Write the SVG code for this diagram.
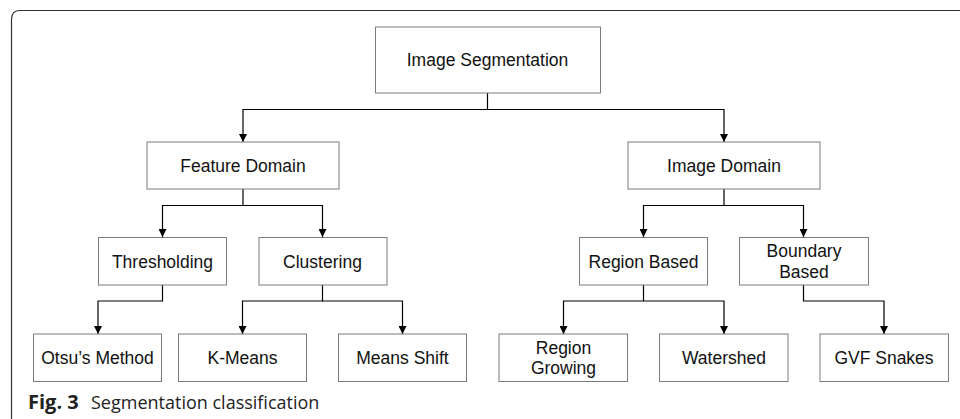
<svg xmlns="http://www.w3.org/2000/svg" width="960" height="419" viewBox="0 0 960 419">
  <defs>
    <marker id="arrow" viewBox="0 0 10 10" refX="10" refY="5" markerWidth="8" markerHeight="8" markerUnits="userSpaceOnUse" orient="auto">
      <path d="M0,0 L10,5 L0,10 Z" fill="#000"/>
    </marker>
    <style>
      .box { fill: #fff; stroke: #7a7a7a; stroke-width: 1; }
      .lbl { font-family: "Liberation Sans", Arial, sans-serif; font-size: 17.5px; fill: #111; text-anchor: middle; dominant-baseline: central; }
      .edge { fill: none; stroke: #000; stroke-width: 1.2; marker-end: url(#arrow); }
      .frame { fill: none; stroke: #333; stroke-width: 1.2; }
      .cap { font-family: "Open Sans", "Noto Sans", sans-serif; font-size: 18px; fill: #222; }
    </style>
  </defs>

  <rect width="960" height="419" fill="#fff"/>
  <!-- figure frame: left and top rule with rounded corner -->
  <path class="frame" d="M11.5,419 V19 Q11.5,10.5 20,10.5 H960"/>

  <g id="connectors">
    <path class="edge" d="M487.5,93 V109.5 H243 V142"/>
    <path class="edge" d="M487.5,109.5 H724 V142"/>
    <path class="edge" d="M243,189 V205.5 H162.5 V237"/>
    <path class="edge" d="M243,205.5 H322.5 V237"/>
    <path class="edge" d="M724,189 V205.5 H643.5 V237"/>
    <path class="edge" d="M724,205.5 H803.5 V237"/>
    <path class="edge" d="M162.5,285 V301 H98 V334"/>
    <path class="edge" d="M322.5,285 V301 H242.5 V334"/>
    <path class="edge" d="M322.5,301 H402.5 V334"/>
    <path class="edge" d="M643.5,285 V301 H563.5 V334"/>
    <path class="edge" d="M643.5,301 H724 V334"/>
    <path class="edge" d="M803.5,285 V301 H884 V334"/>
  </g>

  <g id="image-segmentation">
    <rect class="box" x="375.5" y="27" width="225" height="66"/>
    <text class="lbl" x="487.5" y="60">Image Segmentation</text>
  </g>
  <g id="feature-domain">
    <rect class="box" x="147" y="142" width="192" height="47"/>
    <text class="lbl" x="243" y="165.5">Feature Domain</text>
  </g>
  <g id="image-domain">
    <rect class="box" x="628" y="142" width="192" height="47"/>
    <text class="lbl" x="724" y="165.5">Image Domain</text>
  </g>
  <g id="thresholding">
    <rect class="box" x="98.5" y="237.5" width="128" height="47.5"/>
    <text class="lbl" x="162.5" y="261.5">Thresholding</text>
  </g>
  <g id="clustering">
    <rect class="box" x="259" y="237.5" width="128" height="47.5"/>
    <text class="lbl" x="322.5" y="261.5">Clustering</text>
  </g>
  <g id="region-based">
    <rect class="box" x="579.5" y="237.5" width="128" height="47.5"/>
    <text class="lbl" x="643.5" y="261.5">Region Based</text>
  </g>
  <g id="boundary-based">
    <rect class="box" x="739.5" y="237.5" width="129" height="47.5"/>
    <text class="lbl" x="804" y="250.5">Boundary</text>
    <text class="lbl" x="804" y="271.5">Based</text>
  </g>
  <g id="otsu-method">
    <rect class="box" x="33.5" y="334" width="128" height="47.5"/>
    <text class="lbl" x="97.5" y="357.5">Otsu’s Method</text>
  </g>
  <g id="k-means">
    <rect class="box" x="178.5" y="334" width="128" height="47.5"/>
    <text class="lbl" x="242.5" y="357.5">K-Means</text>
  </g>
  <g id="means-shift">
    <rect class="box" x="338.5" y="334" width="128" height="47.5"/>
    <text class="lbl" x="402.5" y="357.5">Means Shift</text>
  </g>
  <g id="region-growing">
    <rect class="box" x="499" y="334" width="128.5" height="47.5"/>
    <text class="lbl" x="563.5" y="347.5">Region</text>
    <text class="lbl" x="563.5" y="367.5">Growing</text>
  </g>
  <g id="watershed">
    <rect class="box" x="659.5" y="334" width="128.5" height="47.5"/>
    <text class="lbl" x="724" y="357.5">Watershed</text>
  </g>
  <g id="gvf-snakes">
    <rect class="box" x="820" y="334" width="128.5" height="47.5"/>
    <text class="lbl" x="884" y="357.5">GVF Snakes</text>
  </g>

  <text class="cap" x="28" y="409"><tspan font-weight="bold" font-size="20">Fig. 3</tspan><tspan x="91">Segmentation classification</tspan></text>
</svg>
